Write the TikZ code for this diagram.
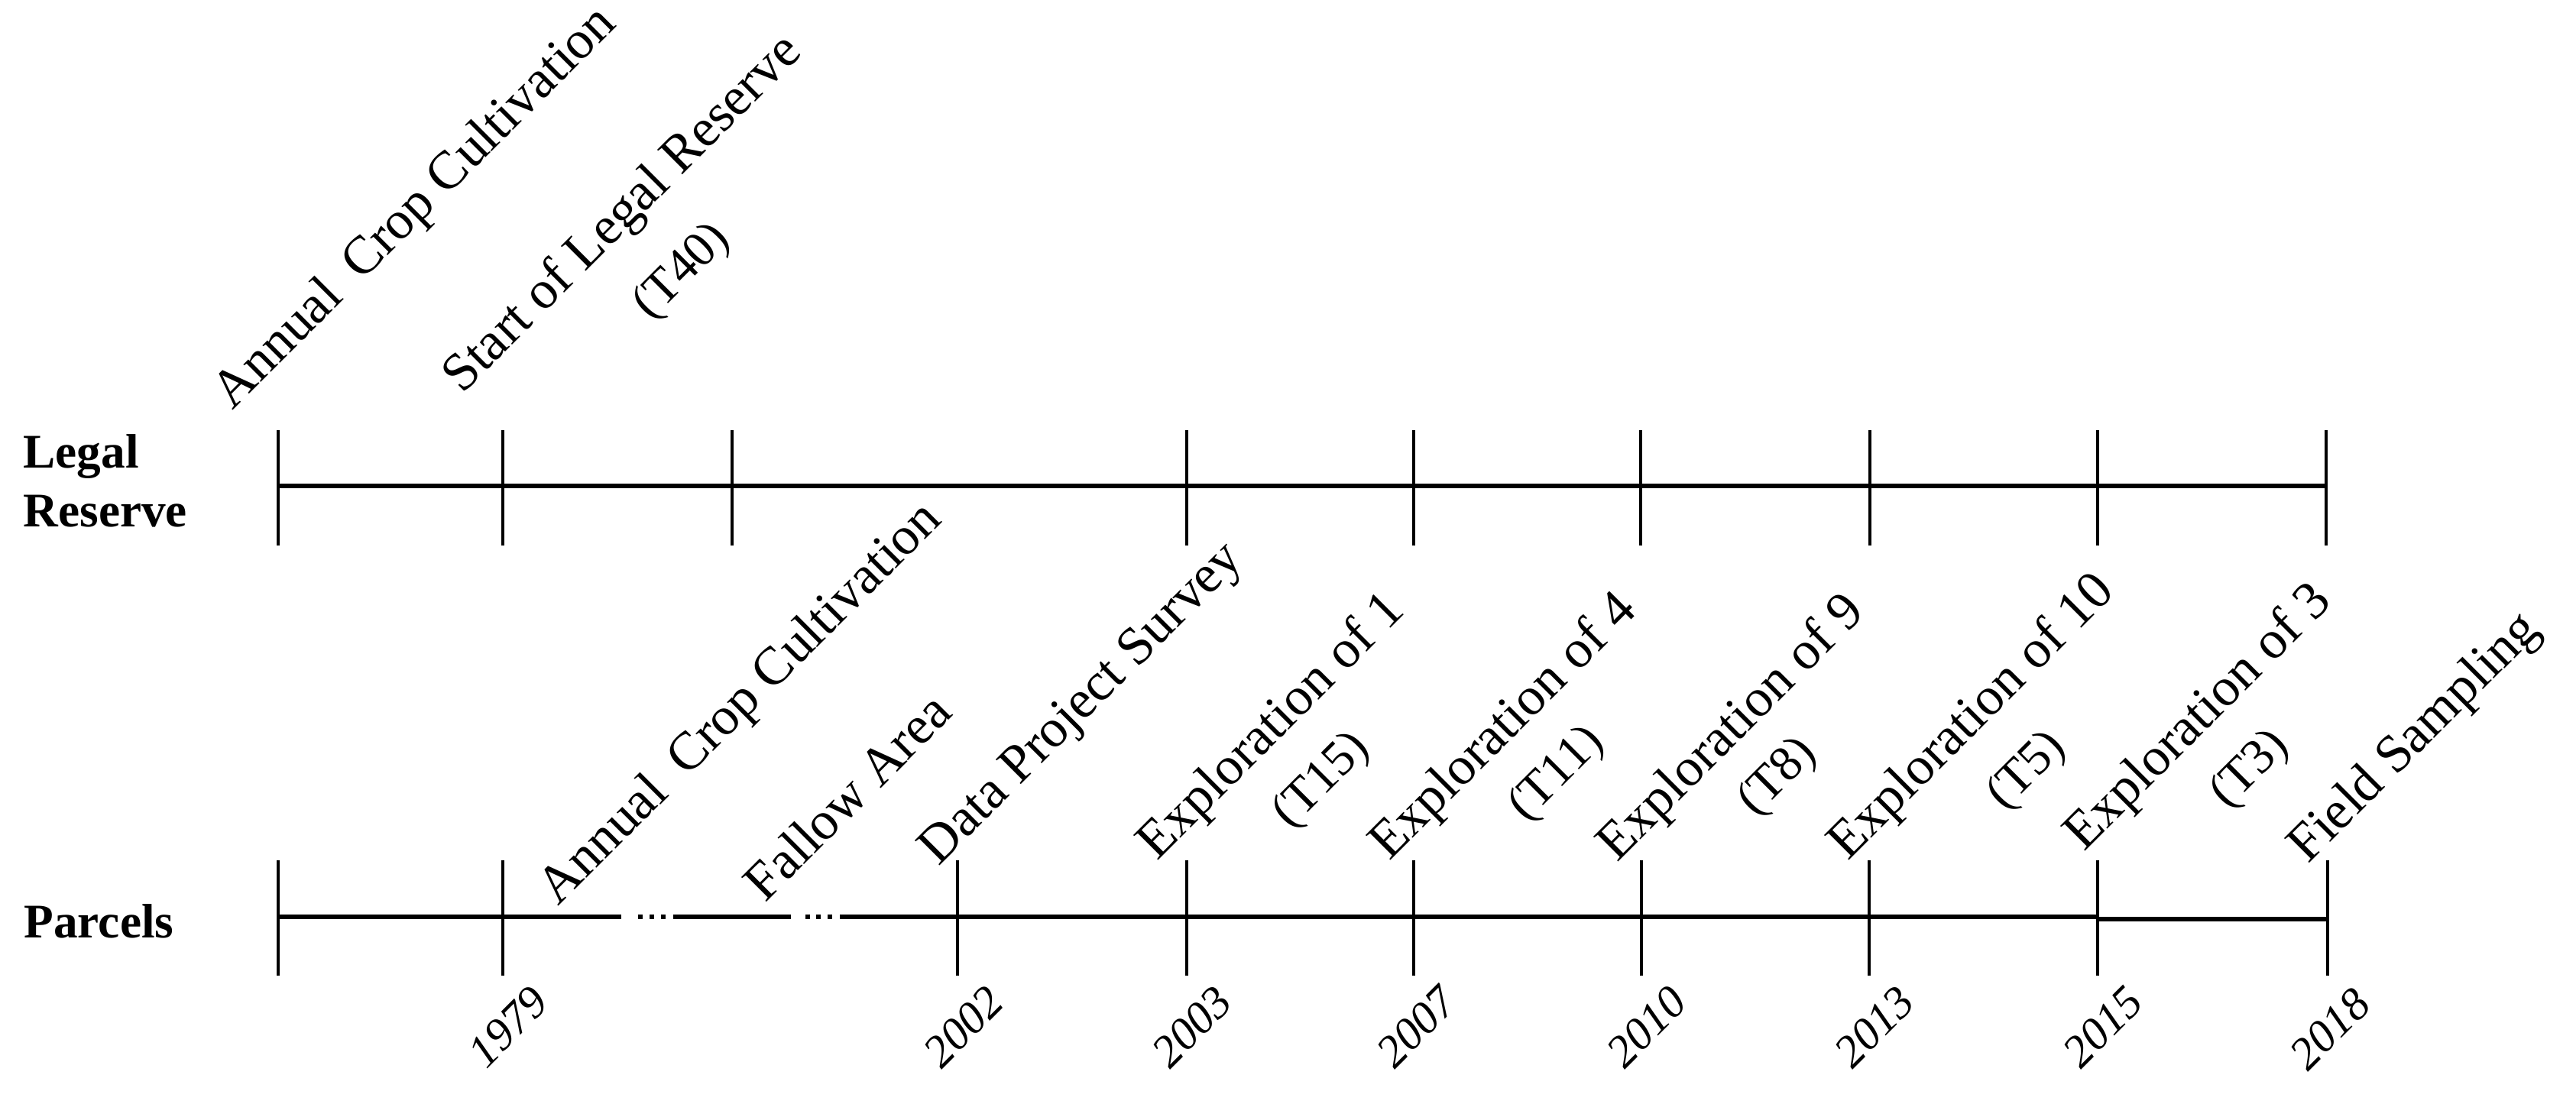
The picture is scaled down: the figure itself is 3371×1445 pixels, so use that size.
\documentclass[tikz,border=0pt]{standalone}
\usepackage{fontspec}
\setmainfont{Liberation Serif}
\usetikzlibrary{calc}
\begin{document}
\begin{tikzpicture}[x=0.1mm, y=-0.1mm,
  axis/.style={line width=0.55mm, black},
  tickline/.style={line width=0.42mm, black},
  lbl/.style={font=\fontsize{20pt}{24pt}\selectfont, rotate=45, anchor=base west, inner sep=0pt},
  lbltwo/.style={font=\fontsize{18.5pt}{22pt}\selectfont, rotate=45, anchor=center, inner sep=0pt},
  yr/.style={font=\itshape\fontsize{17pt}{20pt}\selectfont, rotate=45, anchor=center, inner sep=0pt},
  rowlbl/.style={font=\bfseries\fontsize{18pt}{22pt}\selectfont, anchor=base west, inner sep=0pt},
  dot/.style={fill=black}
]
\useasboundingbox (0,0) rectangle (3371,1445);

% ---- row labels
\node[rowlbl] (lrA) at (30,612) {Legal};
\node[rowlbl] (lrB) at (30,689) {Reserve};
\node[rowlbl] (pa) at (31,1227) {Parcels};

% ---- Legal Reserve axis
\foreach \n/\x in {a1/364, a2/658, a3/958, a4/1553, a5/1850, a6/2147, a7/2447, a8/2745, a9/3044}
  \coordinate (\n) at (\x,636);
\draw[axis] (a1) -- (a9);
\foreach \n in {a1,a2,a3,a4,a5,a6,a7,a8,a9}
  \draw[tickline] ($(\n)+(0,-73)$) -- ($(\n)+(0,78)$);

% ---- Parcels axis
\foreach \n/\x in {p1/364, p2/658, p3/1253, p4/1553, p5/1850, p6/2148, p7/2446, p8/2745}
  \coordinate (\n) at (\x,1200);
\coordinate (p9) at (3046,1203);
\coordinate (p8b) at (2745,1203);
\coordinate (g1) at (813,1200);
\coordinate (g2) at (881,1200);
\coordinate (g3) at (1035,1200);
\coordinate (g4) at (1099,1200);
\draw[axis] (p1) -- (g1);
\draw[axis] (g2) -- (g3);
\draw[axis] (g4) -- (p8);
\draw[axis] (p8b) -- (p9);
\foreach \x in {838,853,868,1057,1071,1086}
  \fill[dot] (\x-2.6,1197.4) rectangle (\x+2.6,1202.6);
\foreach \n in {p1,p2,p3,p4,p5,p6,p7,p8}
  \draw[tickline] ($(\n)+(0,-74)$) -- ($(\n)+(0,77)$);
\draw[tickline] ($(p9)+(0,-77)$) -- ($(p9)+(0,74)$);

% ---- Legal Reserve labels
\node[lbl] (tacc) at (304,538) {Annual\hspace{0.45em}Crop Cultivation};
\node[lbl] (tslr) at (605,517) {Start of Legal Reserve};
\node[lbltwo] (tt40) at (893,356) {(T40)};

% ---- Parcels labels
\node[lbl] (pacc) at (730,1187) {Annual\hspace{0.45em}Crop Cultivation};
\node[lbl] (pfa) at (1001,1183) {Fallow Area};
\node[lbl] (pdps) at (1228,1135) {Data Project Survey};
\node[lbl] (pe1) at (1514,1128) {Exploration of 1};
\node[lbltwo] (pt15) at (1730,1022) {(T15)};
\node[lbl] (pe4) at (1818,1128) {Exploration of 4};
\node[lbltwo] (pt11) at (2038,1014) {(T11)};
\node[lbl] (pe9) at (2116,1130) {Exploration of 9};
\node[lbltwo] (pt8) at (2327,1018) {(T8)};
\node[lbl] (pe10) at (2418,1128) {Exploration of 10};
\node[lbltwo] (pt5) at (2653,1010) {(T5)};
\node[lbl] (pe3) at (2727,1116) {Exploration of 3};
\node[lbltwo] (pt3) at (2945,1008) {(T3)};
\node[lbl] (pfs) at (3020,1132) {Field Sampling};

% ---- years
\node[yr] (y1979) at (665,1344) {1979};
\node[yr] (y2002) at (1261,1344) {2002};
\node[yr] (y2003) at (1560,1344) {2003};
\node[yr] (y2007) at (1854,1344) {2007};
\node[yr] (y2010) at (2155,1344) {2010};
\node[yr] (y2013) at (2453,1344) {2013};
\node[yr] (y2015) at (2752,1344) {2015};
\node[yr] (y2018) at (3049,1347) {2018};
\end{tikzpicture}
\end{document}
